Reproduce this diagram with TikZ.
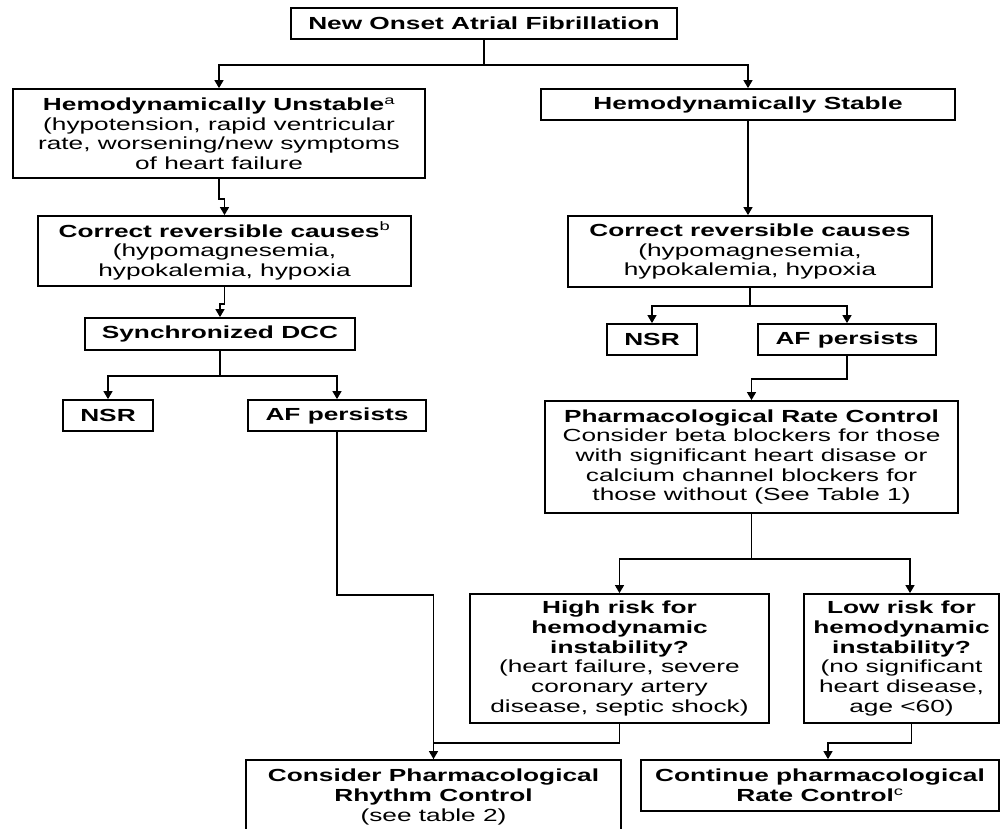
\documentclass[tikz,border=0pt]{standalone}
\usepackage{fontspec}
\setmainfont{Liberation Sans}[FakeStretch=1.50]
\usetikzlibrary{arrows.meta}
\tikzset{
  box/.style={draw=black, line width=1.8pt, rectangle, align=center, inner sep=0pt,
    font=\fontsize{17.5}{19.7}\selectfont},
  conn/.style={draw=black, line width=1.3pt},
  arr/.style={conn, -{Triangle[width=9pt,length=8pt]}}
}
\begin{document}
\begin{tikzpicture}[x=1pt,y=-1pt]
\clip (0,0) rectangle (1002,828);
\fill[white] (0,0) rectangle (1002,828);

\node[box, minimum width=386, minimum height=31] (top) at (484,23.5) {\textbf{New Onset Atrial Fibrillation}};
\node[box, minimum width=412, minimum height=89] (uns) at (219,133.5) {\textbf{Hemodynamically Unstable}\textsuperscript{a}\\(hypotension, rapid ventricular\\rate, worsening/new symptoms\\of heart failure};
\node[box, minimum width=414, minimum height=31] (stab) at (748,104.5) {\textbf{Hemodynamically Stable}};
\node[box, minimum width=373, minimum height=70] (cor1) at (224.5,251) {\textbf{Correct reversible causes}\textsuperscript{b}\\(hypomagnesemia,\\hypokalemia, hypoxia};
\node[box, minimum width=364, minimum height=71] (cor2) at (750,251.5) {\textbf{Correct reversible causes}\\(hypomagnesemia,\\hypokalemia, hypoxia};
\node[box, minimum width=270, minimum height=32] (sync) at (220,334) {\textbf{Synchronized DCC}};
\node[box, minimum width=90, minimum height=31] (nsr1) at (108,415.5) {\textbf{NSR}};
\node[box, minimum width=178, minimum height=31] (af1) at (337,415.5) {\textbf{AF persists}};
\node[box, minimum width=90, minimum height=31] (nsr2) at (652,339.5) {\textbf{NSR}};
\node[box, minimum width=178, minimum height=31] (af2) at (847,339.5) {\textbf{AF persists}};
\node[box, minimum width=413, minimum height=112] (pharm) at (751.5,457) {\textbf{Pharmacological Rate Control}\\Consider beta blockers for those\\with significant heart disase or\\calcium channel blockers for\\those without (See Table 1)};
\node[box, minimum width=299, minimum height=129] (high) at (619.5,658.5) {\textbf{High risk for}\\\textbf{hemodynamic}\\\textbf{instability?}\\(heart failure, severe\\coronary artery\\disease, septic shock)};
\node[box, minimum width=195, minimum height=129] (low) at (901.5,658.5) {\textbf{Low risk for}\\\textbf{hemodynamic}\\\textbf{instability?}\\(no significant\\heart disease,\\age <60)};
\node[box, minimum width=375, minimum height=74] (rhy) at (433.5,797) {\textbf{Consider Pharmacological}\\\textbf{Rhythm Control}\\(see table 2)};
\node[box, minimum width=358, minimum height=51] (cont) at (820,785.5) {\textbf{Continue pharmacological}\\\textbf{Rate Control}\textsuperscript{c}};

% connectors
\draw[arr] (top.south) -- ++(0,25) -| (uns.north);
\draw[arr] (top.south) -- ++(0,25) -| (stab.north);
\draw[arr] (uns.south) -- ++(0,20) -| (cor1.north);
\draw[arr] (cor1.south) -- ++(0,17) -| (sync.north);
\draw[arr] (sync.south) -- ++(0,25) -| (nsr1.north);
\draw[arr] (sync.south) -- ++(0,25) -| (af1.north);
\draw[arr] (af1.south) -- ++(0,163) -| (rhy.north);
\draw[conn] (high.south) -- ++(0,19) -| (rhy.north);
\draw[arr] (stab.south) -- (stab.south |- cor2.north);
\draw[arr] (cor2.south) -- ++(0,18) -| (nsr2.north);
\draw[arr] (cor2.south) -- ++(0,18) -| (af2.north);
\draw[arr] (af2.south) -- ++(0,23) -| (pharm.north);
\draw[arr] (pharm.south) -- ++(0,45) -| (high.north);
\draw[arr] (pharm.south) -- ++(0,45) -| ([xshift=8.5]low.north);
\draw[arr] ([xshift=10]low.south) -- ++(0,19) -| ([xshift=8]cont.north);
\end{tikzpicture}
\end{document}
